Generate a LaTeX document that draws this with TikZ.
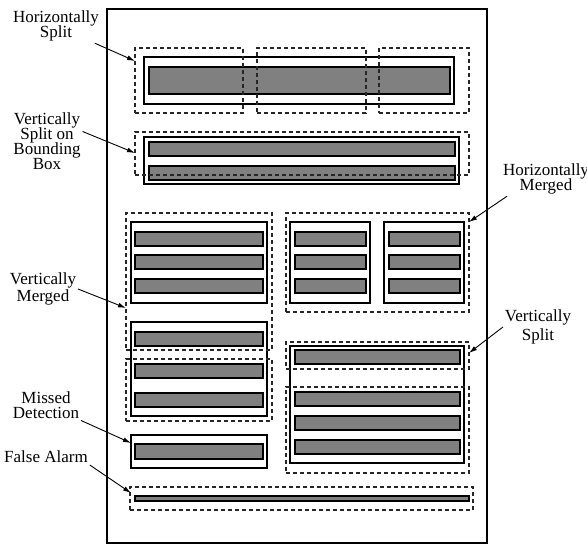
\documentclass[tikz,border=0pt]{standalone}
\usepackage{fontspec}
\setmainfont{Liberation Serif}
\usetikzlibrary{fit,arrows.meta}

\begin{document}
\begin{tikzpicture}
      [x=0.5pt, y=-0.5pt,
      % STYLES
      every node/.style={inner sep=0pt, outer sep=0pt},
      % The page style is used for the scanned page
      page/.style={rectangle, draw, line width=0.6pt},
      % The textLine style is used for one line of text on the page
      textLine/.style={rectangle, draw, fill=black!50, line width=0.55pt},
      % The truthZone style is used for the ground truth zones
      truthZone/.style={rectangle, draw, line width=0.55pt},
      % The detectZone style is used for the detected zones
      detectZone/.style={rectangle, draw=black!85, line width=0.55pt, dash pattern=on 2pt off 1.5pt},
      % The caption style is used to name each kind of error
      caption/.style={align=center, inner sep=1pt, font={\rmfamily\fontsize{8.5}{7.5}\selectfont\lineskiplimit=-20pt\relax}},
      pointer/.style={-{Latex[length=4pt,width=2.4pt]}, line width=0.45pt}]

      \useasboundingbox (0,0) rectangle (587,546);

      % Draw the page
      \node [page, fit={(107,9) (487,543)}] (page) {};

      %%%%%%%%%%%%%%%
      % Text lines
      \node [textLine, fit={(149,67) (450,94)}] (hsLine) {};
      \node [textLine, fit={(149,142) (455,156)}] (vsbbLineA) {};
      \node [textLine, fit={(149,166) (455,180)}] (vsbbLineB) {};
      \foreach \top [count=\i] in {232,255,279} {
        \node [textLine, fit={(135,\top) (263,\top+14)}] (vmLineA\i) {};
        \node [textLine, fit={(295,\top) (366,\top+14)}] (hmLineA\i) {};
        \node [textLine, fit={(389,\top) (460,\top+14)}] (hmLineB\i) {};
      }
      \foreach \top [count=\i] in {332,364,393} {
        \node [textLine, fit={(135,\top) (263,\top+14)}] (vmLineB\i) {};
      }
      \foreach \top [count=\i] in {350,392,416,440} {
        \node [textLine, fit={(295,\top) (460,\top+14)}] (vsLine\i) {};
      }
      \node [textLine, fit={(135,444) (263,459)}] (mdLine) {};
      \node [textLine, fit={(135,496) (469,501)}] (faLine) {};

      %%%%%%%%%%%%%%%
      % Ground truth zones
      \node [truthZone, fit={(144,57) (454,104)}] (hsTruth) {};
      \node [truthZone, fit={(144,137) (459,184)}] (vsbbTruth) {};
      \node [truthZone, fit={(131,222) (267,303)}] (vmTruthA) {};
      \node [truthZone, fit={(131,322) (267,416)}] (vmTruthB) {};
      \node [truthZone, fit={(290,222) (370,303)}] (hmTruthA) {};
      \node [truthZone, fit={(384,222) (464,303)}] (hmTruthB) {};
      \node [truthZone, fit={(290,346) (464,463)}] (vsTruth) {};
      \node [truthZone, fit={(131,435) (267,468)}] (mdTruth) {};

      %%%%%%%%%%%%%%%
      % Detected zones
      \node [detectZone, fit={(135,48) (243,113)}] (hsZoneA) {};
      \node [detectZone, fit={(257,48) (366,113)}] (hsZoneB) {};
      \node [detectZone, fit={(379,48) (469,113)}] (hsZoneC) {};
      \node [detectZone, fit={(135,132) (469,175)}] (vsbbZone) {};
      \node [detectZone, fit={(126,213) (272,350)}] (vmZoneA) {};
      \node [detectZone, fit={(126,359) (272,421)}] (vmZoneB) {};
      \node [detectZone, fit={(286,213) (469,312)}] (hmZone) {};
      \node [detectZone, fit={(286,342) (469,369)}] (vsZoneA) {};
      \node [detectZone, fit={(286,387) (469,473)}] (vsZoneB) {};
      \node [detectZone, fit={(130,487) (473,510)}] (faZone) {};

      %%%%%%%%%%%%%%%
      % Captions
      \node [caption] at (56,26) (hsText) {Horizontally\\Split};
      \node [caption] at (47,141) (vsbbText) {Vertically\\Split on\\Bounding\\Box};
      \node [caption] at (546,179) (hmText) {Horizontally\\Merged};
      \node [caption] at (43,289) (vmText) {Vertically\\[0.8pt]Merged};
      \node [caption] at (538,327) (vsText) {Vertically\\[2pt]Split};
      \node [caption] at (46,405) (mdText) {Missed\\Detection};
      \node [caption] at (46,457) (faText) {False Alarm};

      % Where the pointers end
      \coordinate (hsTip) at (135,61);
      \coordinate (vsbbTip) at (135,153);
      \coordinate (hmTip) at (469,222);
      \coordinate (vmTip) at (126,308);
      \coordinate (vsTip) at (469,353);
      \coordinate (mdTip) at (131,443);
      \coordinate (faTip) at (131,493);

      % Draw the pointers from the captions
      \draw [pointer] (hsText) -- (hsTip);
      \draw [pointer] (vsbbText.15) -- (vsbbTip);
      \draw [pointer] ([xshift=3pt]hmText.south west) -- (hmTip);
      \draw [pointer] (vmText.east) -- (vmTip);
      \draw [pointer] (vsText.west) -- (vsTip);
      \draw [pointer] (mdText.south east) -- (mdTip);
      \draw [pointer] (faText.south east) -- (faTip);

    \end{tikzpicture}
\end{document}
